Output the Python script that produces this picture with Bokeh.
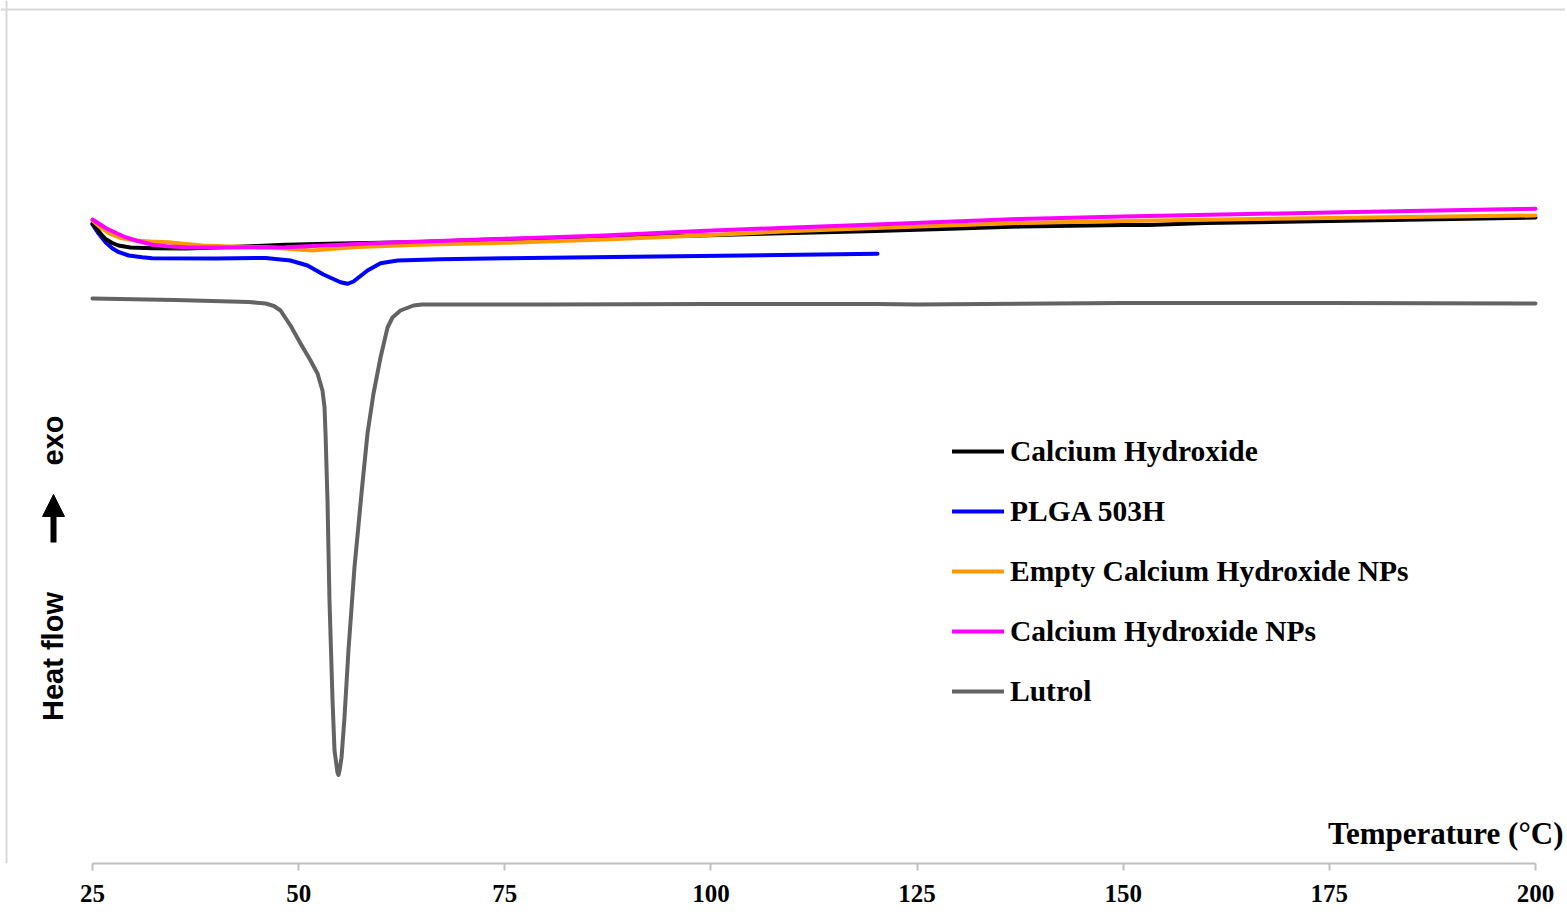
import math
from bokeh.plotting import figure
from bokeh.models import Range1d, FixedTicker, Legend, LegendItem, Label, Arrow, NormalHead, Span
from bokeh.embed import file_html
from bokeh.resources import INLINE

# ---------------- data (heat flow in arbitrary units, exo up) ----------------
ca_t = [25, 25.97, 26.58, 27.39, 28.15, 29.6, 32.28, 36.3, 40, 45, 48.4, 55, 65, 75, 87,
        98.7, 110, 120, 130, 137.5, 150, 153, 160, 175, 190, 200]
ca_hf = [6.40, 6.30, 6.245, 6.205, 6.18, 6.16, 6.153, 6.15, 6.16, 6.175, 6.187, 6.20, 6.215,
         6.245, 6.26, 6.28, 6.305, 6.325, 6.35, 6.37, 6.385, 6.385, 6.405, 6.425, 6.445, 6.46]

plga_t = [25, 25.76, 26.58, 27.39, 28.19, 29.4, 31.03, 32.24, 40, 46, 49, 51.07, 53.01,
          55.08, 55.92, 56.65, 58.35, 59.93, 61.99, 67.2, 75, 98.7, 120.2]
plga_hf = [6.39, 6.297, 6.213, 6.153, 6.113, 6.08, 6.063, 6.053, 6.05, 6.055, 6.03, 5.98,
           5.89, 5.813, 5.797, 5.82, 5.93, 6.003, 6.03, 6.043, 6.053, 6.075, 6.097]

empty_t = [25, 25.97, 27.18, 28.4, 30.21, 32.03, 34.22, 36.28, 38.34, 41.74, 46.34, 49.01,
           51.68, 53.86, 56.53, 64.5, 75, 87, 98.7, 110, 120, 137.5, 150, 175, 200]
empty_hf = [6.43, 6.36, 6.295, 6.255, 6.23, 6.22, 6.213, 6.195, 6.18, 6.17, 6.163, 6.145,
            6.13, 6.145, 6.163, 6.187, 6.207, 6.24, 6.28, 6.325, 6.355, 6.405, 6.425, 6.455,
            6.48]

canp_t = [25, 26.6, 28, 29, 30.5, 32.3, 34, 36.3, 42, 48.4, 60.5, 75, 87, 98.7, 110, 120,
          137.5, 150, 175, 198, 200]
canp_hf = [6.44, 6.355, 6.30, 6.263, 6.225, 6.187, 6.172, 6.163, 6.16, 6.163, 6.207, 6.247,
           6.28, 6.325, 6.36, 6.39, 6.445, 6.47, 6.51, 6.545, 6.547]

lut_t = [25, 35, 44, 46, 47, 47.8, 49.01, 50.23, 51.44, 52.29, 52.89, 53.14, 53.26, 53.5,
         53.74, 54.11, 54.35, 54.71, 54.83, 54.96, 55.2, 55.56, 56.04, 56.77, 57.74, 58.35,
         59.08, 59.93, 60.78, 61.38, 62.35, 63.93, 65, 80, 100, 120, 125, 150, 175, 200]
lut_hf = [5.65, 5.635, 5.615, 5.60, 5.575, 5.53, 5.38, 5.20, 5.03, 4.90, 4.73, 4.56, 4.30,
          3.63, 2.63, 1.63, 1.13, 0.91, 0.885, 0.93, 1.06, 1.46, 2.13, 2.96, 3.80, 4.30,
          4.70, 5.06, 5.36, 5.46, 5.53, 5.58, 5.59, 5.59, 5.595, 5.595, 5.59, 5.605, 5.605,
          5.60]

series_names = ["Calcium Hydroxide", "PLGA 503H", "Empty Calcium Hydroxide NPs",
                "Calcium Hydroxide NPs", "Lutrol"]
series_colors = ["#000000", "#0000FF", "#FF9900", "#FF00FF", "#636363"]

x_ticks = [25, 50, 75, 100, 125, 150, 175, 200]

# ---------------- layout constants (pixels) ----------------
W, H = 1565, 918
AX_LEFT_PX, AX_RIGHT_PX = 92, 1535      # where 25 and 200 sit
FRAME_BOTTOM = 863                       # axis line
PX_PER_Y = 100.0

ppu = (AX_RIGHT_PX - AX_LEFT_PX) / (x_ticks[-1] - x_ticks[0])
x_start = x_ticks[0] - AX_LEFT_PX / ppu
x_end = x_start + W / ppu
y_end = FRAME_BOTTOM / PX_PER_Y


def px_to_x(px):
    return x_start + px / ppu


def py_to_y(py):
    return (FRAME_BOTTOM - py) / PX_PER_Y


p = figure(width=W, height=H, x_range=Range1d(x_start, x_end), y_range=Range1d(0, y_end),
           output_backend="svg", toolbar_location=None, y_axis_location=None,
           min_border_left=0, min_border_right=0, min_border_top=0,
           min_border_bottom=H - FRAME_BOTTOM)
p.outline_line_color = None
p.xgrid.visible = False
p.ygrid.visible = False
p.background_fill_color = "white"
p.border_fill_color = "white"

ax = p.xaxis[0]
ax.ticker = FixedTicker(ticks=x_ticks)
ax.bounds = (x_ticks[0], x_ticks[-1])
ax.axis_line_color = "#bfbfbf"
ax.axis_line_width = 2
ax.major_tick_line_color = "#bfbfbf"
ax.major_tick_line_width = 2
ax.major_tick_out = 7
ax.major_tick_in = 0
ax.minor_tick_line_color = None
ax.major_label_standoff = 14
ax.major_label_text_font = "Liberation Serif"
ax.major_label_text_font_style = "bold"
ax.major_label_text_font_size = "25px"
ax.major_label_text_color = "black"

# chart border (light grey frame of the original chart area)
p.add_layout(Span(location=px_to_x(6), dimension="height", line_color="#d9d9d9", line_width=2))
p.add_layout(Span(location=py_to_y(9), dimension="width", line_color="#d9d9d9", line_width=2))

data = [(ca_t, ca_hf), (plga_t, plga_hf), (empty_t, empty_hf), (canp_t, canp_hf),
        (lut_t, lut_hf)]
order = [4, 1, 0, 2, 3]
rmap = {}
for i in order:
    t, hf = data[i]
    rmap[i] = p.line(t, hf, line_color=series_colors[i], line_width=4,
                     line_join="round", line_cap="round")

legend = Legend(items=[LegendItem(label=series_names[i], renderers=[rmap[i]]) for i in range(5)],
                location=(952, 154))
legend.glyph_width = 52
legend.glyph_height = 36
legend.label_height = 36
legend.spacing = 24
legend.label_standoff = 6
legend.padding = 0
legend.margin = 0
legend.border_line_color = None
legend.background_fill_alpha = 0
legend.label_text_font = "Liberation Serif"
legend.label_text_font_style = "bold"
legend.label_text_font_size = "29.5px"
legend.label_text_color = "black"
p.add_layout(legend, "center")

# axis titles
p.add_layout(Label(x=px_to_x(1563), y=py_to_y(833), text="Temperature (°C)", text_align="right",
                   text_baseline="middle", text_font="Liberation Serif",
                   text_font_style="bold", text_font_size="31px", text_color="black"))
p.add_layout(Label(x=px_to_x(52), y=py_to_y(656), text="Heat flow", angle=math.pi / 2,
                   text_align="center", text_baseline="middle", text_font="Liberation Sans",
                   text_font_style="bold", text_font_size="29px", text_color="black"))
p.add_layout(Label(x=px_to_x(52), y=py_to_y(440), text="exo", angle=math.pi / 2,
                   text_align="center", text_baseline="middle", text_font="Liberation Sans",
                   text_font_style="bold", text_font_size="29px", text_color="black"))
p.add_layout(Arrow(x_start=px_to_x(53), y_start=py_to_y(542), x_end=px_to_x(53),
                   y_end=py_to_y(494), line_width=6, line_color="black",
                   end=NormalHead(size=22, fill_color="black", line_color="black", line_width=1)))

open("out.html", "w").write(file_html(p, INLINE))
